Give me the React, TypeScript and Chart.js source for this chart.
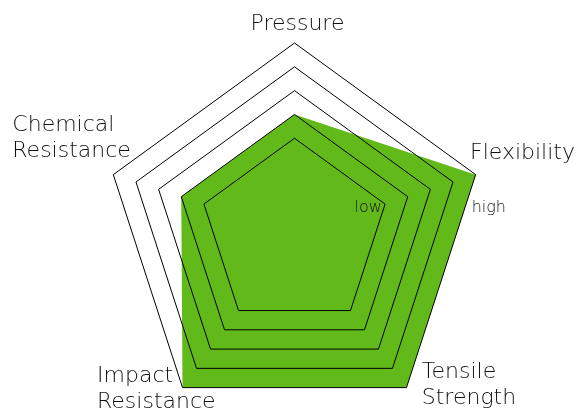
import React, { useEffect, useRef } from "react";
import { Chart, registerables } from "chart.js";

Chart.register(...registerables);

// ---- data ----
const axisLabels: string[][] = [
  ["Pressure"],
  ["Flexibility"],
  ["Tensile", "Strength"],
  ["Impact", "Resistance"],
  ["Chemical", "Resistance"],
];
const ratingValues: number[] = [2, 5, 5, 5, 2];
const levelValues: number[] = [1, 5];
const levelLabels: string[] = ["low", "high"];
const scaleMin = -3;
const scaleMax = 5;

// ---- presentation ----
const FONT = '"DejaVu Sans", sans-serif';
const labelPlacement = [
  { align: "center", dx: 3, dy: -13.4 },
  { align: "left", dx: -5.7, dy: -15.2 },
  { align: "left", dx: 15.3, dy: -9.4 },
  { align: "left", dx: -85.5, dy: -6 },
  { align: "left", dx: -101, dy: -43.5 },
];
const levelPlacement = [
  { align: "right", dx: -3.3, dy: 7.8 },
  { align: "left", dx: -4, dy: 37.5 },
];

const geometryPlugin = {
  id: "geometry",
  afterLayout(chart: any) {
    const s = chart.scales.r;
    s.xCenter = 294.5;
    s.yCenter = 233.5;
    s.drawingArea = 190.5;
  },
};

const textPlugin = {
  id: "texts",
  afterDraw(chart: any) {
    const ctx = chart.ctx;
    const s = chart.scales.r;
    ctx.save();
    ctx.fillStyle = "#111";
    ctx.textBaseline = "alphabetic";
    ctx.font = `200 22px ${FONT}`;
    axisLabels.forEach((lines, i) => {
      const p = s.getPointPositionForValue(i, scaleMax);
      const pl = labelPlacement[i];
      ctx.textAlign = pl.align;
      lines.forEach((line, j) => {
        ctx.fillText(line, p.x + pl.dx, p.y + pl.dy + j * 26);
      });
    });
    ctx.font = `200 16px ${FONT}`;
    levelValues.forEach((v, k) => {
      const p = s.getPointPositionForValue(1, v);
      const pl = levelPlacement[k];
      ctx.textAlign = pl.align;
      ctx.fillText(levelLabels[k], p.x + pl.dx, p.y + pl.dy);
    });
    ctx.restore();
  },
};

export default function App() {
  const ref = useRef<HTMLCanvasElement>(null);
  useEffect(() => {
    if (!ref.current) return;
    const chart = new Chart(ref.current, {
      type: "radar",
      data: {
        labels: axisLabels,
        datasets: [
          {
            data: ratingValues,
            backgroundColor: "#61b91a",
            borderWidth: 0,
            pointRadius: 0,
            fill: "start",
          },
        ],
      },
      options: {
        responsive: false,
        animation: false,
        plugins: { legend: { display: false }, tooltip: { enabled: false } },
        layout: { padding: 0 },
        scales: {
          r: {
            min: scaleMin,
            max: scaleMax,
            ticks: { display: false, stepSize: 1 },
            angleLines: { display: false },
            pointLabels: { display: false },
            grid: {
              z: 1,
              lineWidth: 1,
              color: (c: any) =>
                c.tick && c.tick.value >= 1 ? "#000" : "rgba(0,0,0,0)",
            },
          },
        },
      },
      plugins: [geometryPlugin, textPlugin],
    });
    return () => chart.destroy();
  }, []);
  return (
    <div style={{ position: "absolute", left: 0, top: 0, width: 578, height: 410 }}>
      <canvas ref={ref} width={578} height={410} />
    </div>
  );
}
